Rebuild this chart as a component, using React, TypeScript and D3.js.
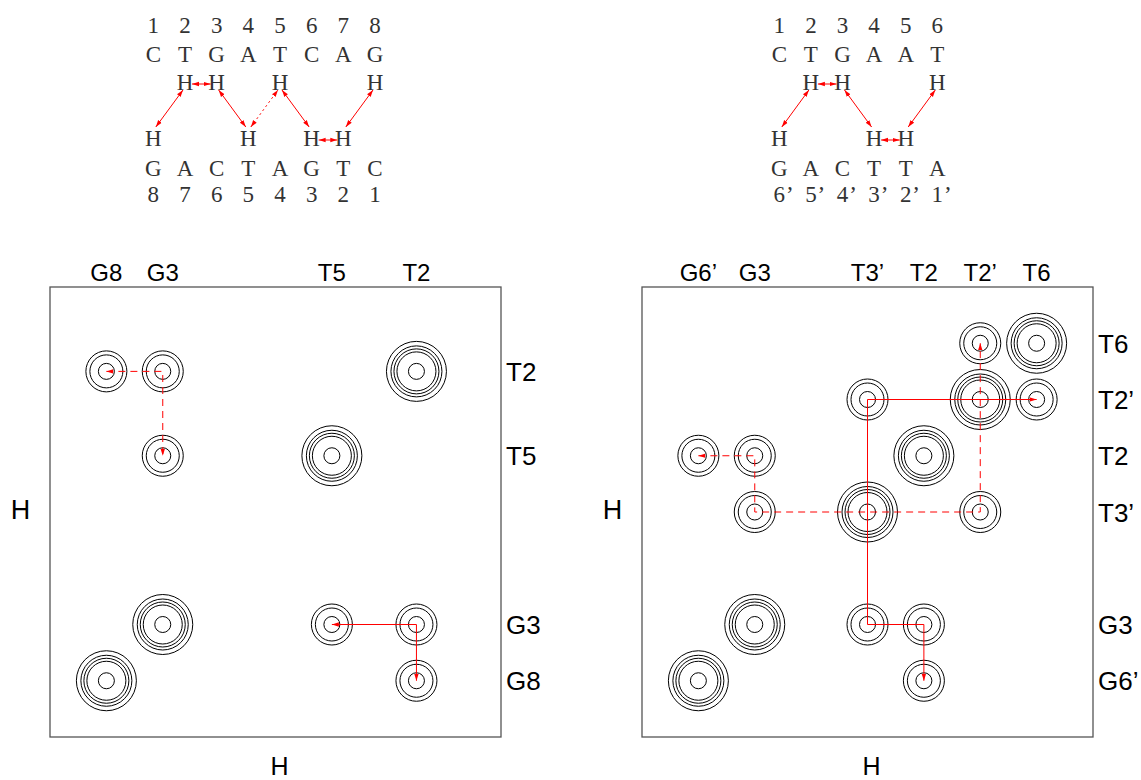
import React from 'react'
import * as d3 from 'd3'

// ---- top: sequence diagrams ----
const leftTopSeq = ['C', 'T', 'G', 'A', 'T', 'C', 'A', 'G']
const leftBotSeq = ['G', 'A', 'C', 'T', 'A', 'G', 'T', 'C']
const leftTopNums = ['1', '2', '3', '4', '5', '6', '7', '8']
const leftBotNums = ['8', '7', '6', '5', '4', '3', '2', '1']
const leftTopH = [2, 3, 5, 8]
const leftBotH = [1, 4, 6, 7]
// [fromRow, fromCol, toRow, toCol, dotted]
const leftArrows: [string, number, string, number, boolean][] = [
    ['t', 2, 't', 3, false],
    ['t', 2, 'b', 1, false],
    ['t', 3, 'b', 4, false],
    ['b', 4, 't', 5, true],
    ['t', 5, 'b', 6, false],
    ['b', 6, 'b', 7, false],
    ['t', 8, 'b', 7, false],
]

const rightTopSeq = ['C', 'T', 'G', 'A', 'A', 'T']
const rightBotSeq = ['G', 'A', 'C', 'T', 'T', 'A']
const rightTopNums = ['1', '2', '3', '4', '5', '6']
const rightBotNums = ['6’', '5’', '4’', '3’', '2’', '1’']
const rightTopH = [2, 3, 6]
const rightBotH = [1, 4, 5]
const rightArrows: [string, number, string, number, boolean][] = [
    ['t', 2, 't', 3, false],
    ['t', 2, 'b', 1, false],
    ['t', 3, 'b', 4, false],
    ['b', 4, 'b', 5, false],
    ['t', 6, 'b', 5, false],
]

// ---- bottom: NOESY-like maps ----
const leftResidues = ['G8', 'G3', 'T5', 'T2']
const leftShifts = [1, 2, 5, 6.5]
const leftDiagPeaks = ['G8', 'G3', 'T5', 'T2']
const leftCrossPeaks = [
    ['G8', 'T2'], ['G3', 'T2'], ['G3', 'T5'],
    ['T5', 'G3'], ['T2', 'G3'], ['T2', 'G8'],
]
const leftDashedWalk = [['G8', 'T2'], ['G3', 'T2'], ['G3', 'T5']]
const leftSolidWalk = [['T5', 'G3'], ['T2', 'G3'], ['T2', 'G8']]

const rightResidues = ['G6’', 'G3', 'T3’', 'T2', 'T2’', 'T6']
const rightShifts = [1, 2, 4, 5, 6, 7]
const rightDiagPeaks = ['G6’', 'G3', 'T3’', 'T2', 'T2’', 'T6']
const rightCrossPeaks = [
    ['T2’', 'T6'], ['T3’', 'T2’'], ['T6', 'T2’'],
    ['G6’', 'T2'], ['G3', 'T2'], ['G3', 'T3’'], ['T2’', 'T3’'],
    ['T3’', 'G3'], ['T2', 'G3'], ['T2', 'G6’'],
]
const rightDashedWalk = [['G6’', 'T2'], ['G3', 'T2'], ['G3', 'T3’'], ['T2’', 'T3’'], ['T2’', 'T6']]
const rightSolidWalk = [['T6', 'T2’'], ['T3’', 'T2’'], ['T3’', 'G3'], ['T2', 'G3'], ['T2', 'G6’']]

const diagLevels = [8, 19.5, 22.5, 25.5, 30]
const crossLevels = [8, 16.5, 20.5]

const SERIF = '"Liberation Serif", "DejaVu Serif", serif'
const SANS = '"Liberation Sans", Arial, Helvetica, sans-serif'

const rowY = { nTop: 33, sTop: 62, hTop: 90, hBot: 145.5, sBot: 175.5, nBot: 201.5 }

function SeqDiagram ({ x0, step, topSeq, botSeq, topNums, botNums, topH, botH, arrows, id }: any) {
    const n = topSeq.length
    const col = d3.scaleLinear().domain([1, n]).range([x0, x0 + step * (n - 1)])
    const fs = 23
    const txt = (s: string, i: number, y: number, k: string) => {
        const main = s.replace('’', '')
        const prime = s.length > main.length
        return (
            <g key={k}>
                <text x={col(i + 1)} y={y} textAnchor="middle" fontFamily={SERIF} fontSize={fs} fill="#333">{main}</text>
                {prime && <text x={col(i + 1) + 10.5} y={y} textAnchor="middle" fontFamily={SERIF} fontSize={fs} fill="#333">’</text>}
            </g>
        )
    }
    const arrowLine = (a: any, i: number) => {
        const [r1, c1, r2, c2, dotted] = a
        let x1, y1, x2, y2
        if (r1 === r2) {
            const y = r1 === 't' ? 84 : 140
            x1 = col(c1) + 7; x2 = col(c2) - 6; y1 = y; y2 = y
        } else {
            const topC = r1 === 't' ? c1 : c2
            const botC = r1 === 't' ? c2 : c1
            const s = Math.sign(col(botC) - col(topC))
            const tx = col(topC) + 2 * s, ty = 90
            const bx = col(botC) - 2.5 * s, by = 127
            if (r1 === 't') { x1 = tx; y1 = ty; x2 = bx; y2 = by } else { x1 = bx; y1 = by; x2 = tx; y2 = ty }
        }
        return (
            <line key={'a' + i} x1={x1} y1={y1} x2={x2} y2={y2} stroke="red" strokeWidth={1}
                strokeDasharray={dotted ? '2,3' : undefined}
                markerStart={`url(#${id})`} markerEnd={`url(#${id})`} />
        )
    }
    return (
        <g>
            {topNums.map((s: string, i: number) => txt(s, i, rowY.nTop, 'nt' + i))}
            {topSeq.map((s: string, i: number) => txt(s, i, rowY.sTop, 'st' + i))}
            {topH.map((c: number) => txt('H', c - 1, rowY.hTop, 'ht' + c))}
            {botH.map((c: number) => txt('H', c - 1, rowY.hBot, 'hb' + c))}
            {botSeq.map((s: string, i: number) => txt(s, i, rowY.sBot, 'sb' + i))}
            {botNums.map((s: string, i: number) => txt(s, i, rowY.nBot, 'nb' + i))}
            {arrows.map(arrowLine)}
        </g>
    )
}

function Peak ({ cx, cy, levels }: any) {
    return (
        <g>
            {levels.map((r: number, i: number) => (
                <circle key={i} cx={cx} cy={cy} r={r} fill="none" stroke="#000" strokeWidth={1} />
            ))}
        </g>
    )
}

function Spectrum ({ left, residues, shifts, diag, cross, dashed, solid, id }: any) {
    const top = 287, bottom = 737, width = 451
    const shift = d3.scaleOrdinal<string, number>().domain(residues).range(shifts)
    const x = d3.scaleLinear().domain([0, 8]).range([left, left + width])
    const y = d3.scaleLinear().domain([0, 8]).range([bottom, top])
    const px = (r: string) => x(shift(r))
    const py = (r: string) => y(shift(r))
    const walk = (pts: string[][]) => d3.line()(pts.map(([a, b]) => [px(a), py(b)]))
    return (
        <g>
            <rect x={left} y={top} width={width} height={bottom - top} fill="none" stroke="#555" strokeWidth={1.3} />
            {diag.map((r: string) => <Peak key={'d' + r} cx={px(r)} cy={py(r)} levels={diagLevels} />)}
            {cross.map(([a, b]: string[]) => <Peak key={'c' + a + b} cx={px(a)} cy={py(b)} levels={crossLevels} />)}
            <path d={walk(dashed) || ''} fill="none" stroke="red" strokeWidth={1} strokeDasharray="7,5"
                markerStart={`url(#${id})`} markerEnd={`url(#${id})`} />
            <path d={walk(solid) || ''} fill="none" stroke="red" strokeWidth={1}
                markerStart={`url(#${id})`} markerEnd={`url(#${id})`} />
            {residues.map((r: string) => (
                <text key={'tx' + r} x={px(r)} y={281} textAnchor="middle" fontFamily={SANS} fontSize={24} fill="#000">{r}</text>
            ))}
            {residues.map((r: string) => (
                <text key={'ty' + r} x={left + width + 5} y={py(r) + 9.5} fontFamily={SANS} fontSize={26} fill="#000">{r}</text>
            ))}
            <text x={left - 29.5} y={518.5} textAnchor="middle" fontFamily={SANS} fontSize={27} fill="#000">H</text>
            <text x={left + width / 2 + 4} y={775} textAnchor="middle" fontFamily={SANS} fontSize={25} fill="#000">H</text>
        </g>
    )
}

export default function App () {
    return (
        <svg width={1141} height={780} style={{ position: 'absolute', left: 0, top: 0, background: '#fff' }}>
            <defs>
                <marker id="ah" viewBox="0 -3 7 6" refX={7} refY={0} markerWidth={7} markerHeight={6}
                    markerUnits="userSpaceOnUse" orient="auto-start-reverse">
                    <path d="M0,-2.2L7,0L0,2.2Z" fill="red" />
                </marker>
            </defs>
            <SeqDiagram x0={153.3} step={31.67} topSeq={leftTopSeq} botSeq={leftBotSeq} topNums={leftTopNums}
                botNums={leftBotNums} topH={leftTopH} botH={leftBotH} arrows={leftArrows} id="ah" />
            <SeqDiagram x0={779.3} step={31.6} topSeq={rightTopSeq} botSeq={rightBotSeq} topNums={rightTopNums}
                botNums={rightBotNums} topH={rightTopH} botH={rightBotH} arrows={rightArrows} id="ah" />
            <Spectrum left={50} residues={leftResidues} shifts={leftShifts} diag={leftDiagPeaks} cross={leftCrossPeaks}
                dashed={leftDashedWalk} solid={leftSolidWalk} id="ah" />
            <Spectrum left={642} residues={rightResidues} shifts={rightShifts} diag={rightDiagPeaks} cross={rightCrossPeaks}
                dashed={rightDashedWalk} solid={rightSolidWalk} id="ah" />
        </svg>
    )
}
